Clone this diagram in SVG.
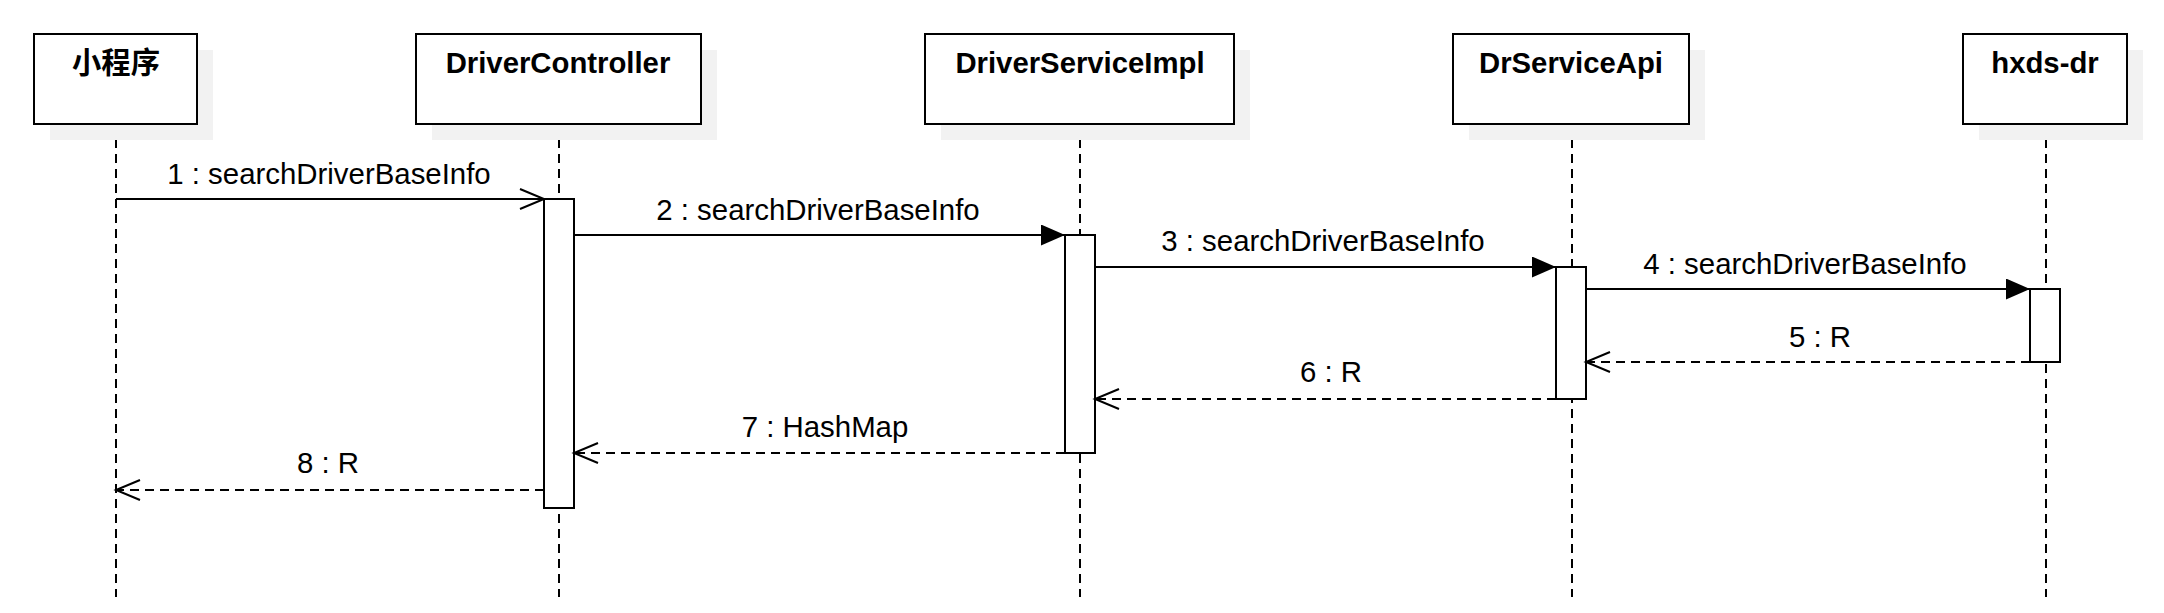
<svg xmlns="http://www.w3.org/2000/svg" width="2164" height="613" viewBox="0 0 2164 613">
<style>
.box{fill:#fff;stroke:#000;stroke-width:2}
.shadow{fill:#f2f2f2;stroke:none}
.title{font-family:"Liberation Sans","Noto Sans CJK SC",Arial,sans-serif;font-size:29.3px;font-weight:bold;text-anchor:middle;fill:#000}
.life{stroke:#000;stroke-width:2;stroke-dasharray:9 6;fill:none}
.bar{fill:#fff;stroke:#000;stroke-width:2}
.msg{stroke:#000;stroke-width:2;fill:none}
.ret{stroke:#000;stroke-width:2;fill:none;stroke-dasharray:9 6}
.lbl{font-family:"Liberation Sans",Arial,sans-serif;font-size:29.4px;text-anchor:middle;fill:#000}
</style>
<defs>
<marker id="open" markerUnits="userSpaceOnUse" markerWidth="30" markerHeight="26" refX="25" refY="11" orient="auto" viewBox="0 0 30 22">
<path d="M1,1 L25,11 L1,21" fill="none" stroke="#000" stroke-width="2"/>
</marker>
<marker id="fill" markerUnits="userSpaceOnUse" markerWidth="26" markerHeight="22" refX="24" refY="10.5" orient="auto" viewBox="0 0 26 22">
<path d="M0,0 L24,10.5 L0,21 Z" fill="#000" stroke="none"/>
</marker>
</defs>
<rect width="2164" height="613" fill="#fff"/>
<g id="lifelines">
<line class="life" x1="116" y1="124" x2="116" y2="597"/>
<line class="life" x1="559" y1="124" x2="559" y2="597"/>
<line class="life" x1="1080" y1="124" x2="1080" y2="597"/>
<line class="life" x1="1572" y1="124" x2="1572" y2="597"/>
<line class="life" x1="2046" y1="124" x2="2046" y2="597"/>
</g>
<g id="node-xcx">
<rect class="shadow" x="50" y="50" width="163" height="90"/>
<rect class="box" x="34" y="34" width="163" height="90"/>
<text class="title" x="116" y="73">小程序</text>
</g>
<g id="node-DriverController">
<rect class="shadow" x="432" y="50" width="285" height="90"/>
<rect class="box" x="416" y="34" width="285" height="90"/>
<text class="title" x="558" y="73">DriverController</text>
</g>
<g id="node-DriverServiceImpl">
<rect class="shadow" x="941" y="50" width="309" height="90"/>
<rect class="box" x="925" y="34" width="309" height="90"/>
<text class="title" x="1080" y="73">DriverServiceImpl</text>
</g>
<g id="node-DrServiceApi">
<rect class="shadow" x="1469" y="50" width="236" height="90"/>
<rect class="box" x="1453" y="34" width="236" height="90"/>
<text class="title" x="1571" y="73">DrServiceApi</text>
</g>
<g id="node-hxds-dr">
<rect class="shadow" x="1979" y="50" width="164" height="90"/>
<rect class="box" x="1963" y="34" width="164" height="90"/>
<text class="title" x="2045" y="73">hxds-dr</text>
</g>
<g id="activations">
<rect class="bar" x="544" y="199" width="30" height="309"/>
<rect class="bar" x="1065" y="235" width="30" height="218"/>
<rect class="bar" x="1556" y="267" width="30" height="132"/>
<rect class="bar" x="2030" y="289" width="30" height="73"/>
</g>
<g id="connectors">
<line class="msg" x1="116" y1="199" x2="544" y2="199" marker-end="url(#open)"/>
<line class="msg" x1="574" y1="235" x2="1065" y2="235" marker-end="url(#fill)"/>
<line class="msg" x1="1095" y1="267" x2="1556" y2="267" marker-end="url(#fill)"/>
<line class="msg" x1="1586" y1="289" x2="2030" y2="289" marker-end="url(#fill)"/>
<line class="ret" x1="2030" y1="362" x2="1586" y2="362" marker-end="url(#open)"/>
<line class="ret" x1="1556" y1="399" x2="1095" y2="399" marker-end="url(#open)"/>
<line class="ret" x1="1065" y1="453" x2="574" y2="453" marker-end="url(#open)"/>
<line class="ret" x1="544" y1="490" x2="116" y2="490" marker-end="url(#open)"/>
<text class="lbl" x="329" y="184">1 : searchDriverBaseInfo</text>
<text class="lbl" x="818" y="220">2 : searchDriverBaseInfo</text>
<text class="lbl" x="1323" y="251">3 : searchDriverBaseInfo</text>
<text class="lbl" x="1805" y="274">4 : searchDriverBaseInfo</text>
<text class="lbl" x="1820" y="347">5 : R</text>
<text class="lbl" x="1331" y="382">6 : R</text>
<text class="lbl" x="825" y="437">7 : HashMap</text>
<text class="lbl" x="328" y="473">8 : R</text>
</g>
</svg>
